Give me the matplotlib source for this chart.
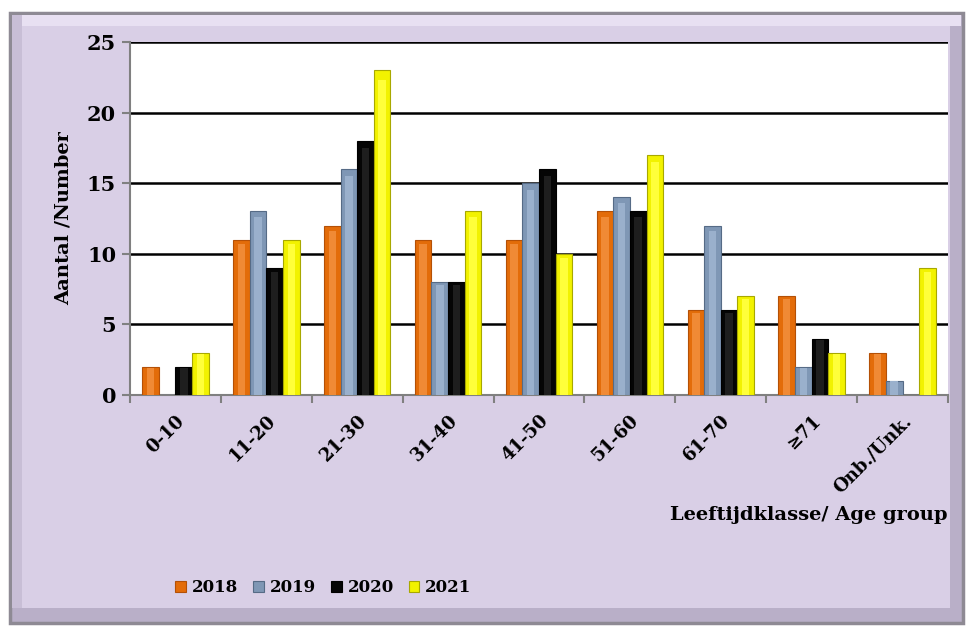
import numpy as np
import matplotlib
matplotlib.use("Agg")
import matplotlib.pyplot as plt
from matplotlib.patches import Rectangle

# === Data ===
groups = ["0-10", "11-20", "21-30", "31-40", "41-50", "51-60", "61-70", "\u226571", "Onb./Unk."]
years = ["2018", "2019", "2020", "2021"]
v2018 = [2, 11, 12, 11, 11, 13, 6, 7, 3]
v2019 = [0, 13, 16, 8, 15, 14, 12, 2, 1]
v2020 = [2, 9, 18, 8, 16, 13, 6, 4, 0]
v2021 = [3, 11, 23, 13, 10, 17, 7, 3, 9]
series = [v2018, v2019, v2020, v2021]

colors = ["#E36C09", "#7F97B5", "#050505", "#F2F200"]
edge_cols = ["#B45006", "#566B86", "#000000", "#A8A800"]
light_cols = ["#F08A35", "#9AB0CC", "#1E1E1E", "#FFFF3A"]

plt.rcParams["font.family"] = "DejaVu Serif"
plt.rcParams["font.weight"] = "bold"

fig = plt.figure(figsize=(9.66, 6.27), dpi=100)
W, H = 966, 627


def fx(px):
    return px / W


def fy(py):
    return 1 - py / H


def frame_rect(x0, y0, x1, y1, **kw):
    fig.patches.append(Rectangle((fx(x0), fy(y1)), fx(x1) - fx(x0), fy(y0) - fy(y1),
                                 transform=fig.transFigure, zorder=-5, **kw))


# === Outer frame with bevel ===
frame_rect(10, 13, 963, 623, facecolor="#B9AFC8", edgecolor="#8E8A94", linewidth=2.5)
frame_rect(12, 15, 961, 26, facecolor="#E8E0F2", edgecolor="none")
frame_rect(12, 15, 22, 608, facecolor="#C8BED6", edgecolor="none")
frame_rect(22, 26, 950, 608, facecolor="#D9CFE6", edgecolor="none")

ax = fig.add_axes([fx(130), fy(395), fx(948) - fx(130), fy(42) - fy(395)])
ax.set_zorder(2)
ax.set_facecolor("white")

x = np.arange(len(groups))
bw = 0.183
offsets = (np.arange(4) - 1.5) * bw
for i, vals in enumerate(series):
    ax.bar(x + offsets[i], vals, width=bw, color=colors[i], edgecolor=edge_cols[i],
           linewidth=0.8, zorder=3, label=years[i])
    ax.bar(x + offsets[i], np.array(vals) * 0.97, width=bw * 0.45, color=light_cols[i],
           edgecolor="none", zorder=4)

ax.set_xlim(-0.5, len(groups) - 0.5)
ax.set_ylim(0, 25)
ax.set_yticks([0, 5, 10, 15, 20, 25])
ax.yaxis.grid(True, color="black", linewidth=1.8, zorder=1)
ax.set_axisbelow(True)

ax.set_xticks(x)
ax.set_xticklabels(groups, rotation=45, ha="right", rotation_mode="anchor",
                   fontsize=13, fontweight="bold")
ax.set_xticks(np.arange(len(groups) + 1) - 0.5, minor=True)
ax.tick_params(axis="x", which="major", length=0, pad=12)
ax.tick_params(axis="x", which="minor", length=6, width=1.5, color="#808080")
ax.tick_params(axis="y", length=6, width=1.5, color="#808080", labelsize=15, pad=4)
for lab in ax.get_yticklabels():
    lab.set_fontweight("bold")

for s in ["top", "right"]:
    ax.spines[s].set_visible(False)
ax.spines["left"].set_color("#808080")
ax.spines["left"].set_linewidth(1.5)
ax.spines["bottom"].set_color("#808080")
ax.spines["bottom"].set_linewidth(1.5)

ax.set_ylabel("Aantal /Number", fontsize=14, fontweight="bold", labelpad=10)
fig.text(fx(948), fy(515), "Leeftijdklasse/ Age group", ha="right", va="center",
         fontsize=14, fontweight="bold")

handles, labels = ax.get_legend_handles_labels()
fig.legend(handles, labels, loc="center left", bbox_to_anchor=(fx(160), fy(588)),
           ncol=4, frameon=False, handlelength=0.65, handleheight=0.65,
           handletextpad=0.35, columnspacing=0.9, prop={"weight": "bold", "size": 12})

plt.savefig("out.png", dpi=100)
